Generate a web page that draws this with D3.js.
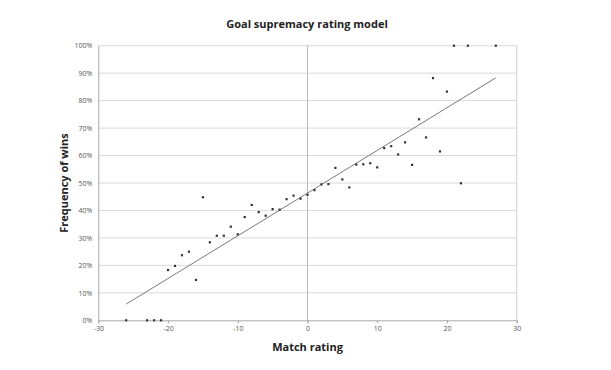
<!DOCTYPE html>
<html><head><meta charset="utf-8">
<script src="https://cdn.jsdelivr.net/npm/d3@7/dist/d3.min.js"></script>
<style>html,body{margin:0;padding:0;background:#fff;}svg{display:block;}</style>
</head><body><svg id="c" width="611" height="370"></svg>
<script>
const matchRating = [-26,-23,-22,-21,-20,-19,-18,-17,-16,-15,-14,-13,-12,-11,-10,-9,-8,-7,-6,-5,-4,-3,-2,-1,0,1,2,3,4,5,6,7,8,9,10,11,12,13,14,15,16,17,18,19,20,21,22,23,27];
const winFreq = [0,0,0,0,18.3,19.8,23.7,25,14.7,44.8,28.4,30.8,30.8,34.1,31.3,37.6,42,39.4,38.1,40.5,40.3,44.1,45.4,44.3,45.7,47.4,49.5,49.6,55.5,51.3,48.4,56.7,56.8,57.2,55.7,62.7,63.4,60.4,64.8,56.6,73.2,66.6,88.2,61.5,83.3,100,49.9,100,100];
const trendX = [-26, 27];
const trendY = [5.9, 88.3];
const xTicks = [-30,-20,-10,0,10,20,30];
const yTicks = [0,10,20,30,40,50,60,70,80,90,100];
const title = "Goal supremacy rating model";
const xTitle = "Match rating";
const yTitle = "Frequency of wins";

const svg = d3.select("#c");
const L = 98.3, R = 516.7, T = 45.7, B = 320.3;
const x = d3.scaleLinear().domain([-30,30]).range([L,R]);
const y = d3.scaleLinear().domain([0,100]).range([B,T]);
const font = "'Open Sans', 'Liberation Sans', sans-serif";

// gridlines
svg.append("g").selectAll("line").data(yTicks.filter(d=>d>0)).join("line")
  .attr("x1",L).attr("x2",R).attr("y1",d=>y(d)).attr("y2",d=>y(d))
  .attr("stroke","#d9d9d9").attr("stroke-width",1);
// right border
svg.append("line").attr("x1",R).attr("x2",R).attr("y1",T).attr("y2",B).attr("stroke","#d0d0d0");
// vertical zero line
svg.append("line").attr("x1",x(0)).attr("x2",x(0)).attr("y1",T).attr("y2",B+3).attr("stroke","#bdbdbd");

// axes
const xAxis = svg.append("g").attr("transform",`translate(0,${B})`)
  .call(d3.axisBottom(x).tickValues(xTicks).tickSize(3).tickPadding(3).tickFormat(d=>String(d)));
const yAxis = svg.append("g").attr("transform",`translate(${L},0)`)
  .call(d3.axisLeft(y).tickValues(yTicks).tickSize(0).tickPadding(6).tickFormat(d=>d+"%"));
[xAxis,yAxis].forEach(a=>{
  a.select(".domain").attr("stroke","#a8a8a8");
  a.selectAll(".tick line").attr("stroke","#a8a8a8");
  a.selectAll("text").attr("fill","#555").style("font-family",font).style("font-size","7px");
});

// trendline
svg.append("line").attr("x1",x(trendX[0])).attr("y1",y(trendY[0]))
  .attr("x2",x(trendX[1])).attr("y2",y(trendY[1]))
  .attr("stroke","#7a7a7a").attr("stroke-width",1);

// points
svg.append("g").selectAll("rect").data(matchRating.map((m,i)=>[m,winFreq[i]])).join("rect")
  .attr("x",d=>x(d[0])-1.1).attr("y",d=>y(d[1])-1.1).attr("width",2.2).attr("height",2.2)
  .attr("fill","#333");

// titles
svg.append("text").attr("x",307).attr("y",28).attr("text-anchor","middle")
  .style("font-family",font).style("font-weight","bold").style("font-size","11px").attr("fill","#222").text(title);
svg.append("text").attr("x",307.5).attr("y",351).attr("text-anchor","middle")
  .style("font-family",font).style("font-weight","bold").style("font-size","11px").attr("fill","#222").text(xTitle);
svg.append("text").attr("transform",`translate(68,183) rotate(-90)`).attr("text-anchor","middle")
  .style("font-family",font).style("font-weight","bold").style("font-size","11px").attr("fill","#222").text(yTitle);
</script></body></html>
